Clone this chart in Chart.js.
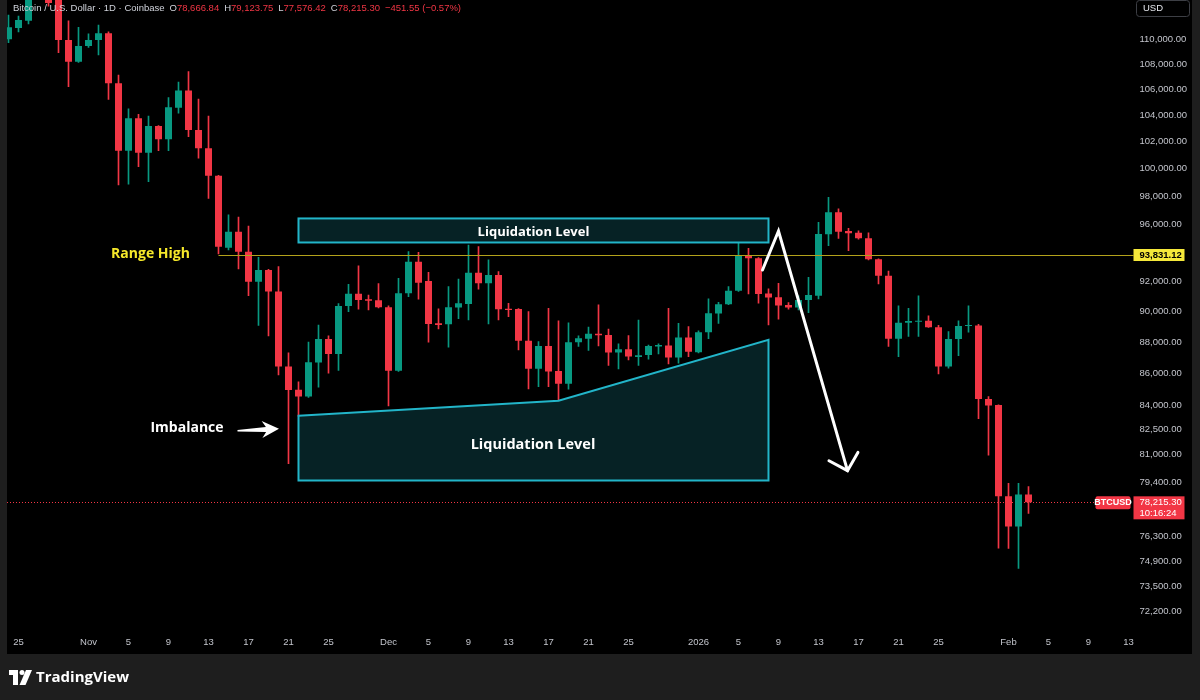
<!DOCTYPE html>
<html>
<head>
<meta charset="utf-8">
<title>BTCUSD 1D</title>
<script src="https://cdn.jsdelivr.net/npm/chart.js@4.4.1/dist/chart.umd.min.js"></script>
<style>
  html, body { margin: 0; padding: 0; background: #1e1e1e; }
  #wrap { position: relative; width: 1200px; height: 700px; }
</style>
</head>
<body>
<div id="wrap"><canvas id="btcChart" width="1200" height="700"></canvas></div>
<script>
// Daily candles, Coinbase BTC/USD
const dates = [
  'Oct 24','Oct 25','Oct 26','Oct 27','Oct 28','Oct 29','Oct 30','Oct 31',
  'Nov 1','Nov 2','Nov 3','Nov 4','Nov 5','Nov 6','Nov 7','Nov 8','Nov 9','Nov 10',
  'Nov 11','Nov 12','Nov 13','Nov 14','Nov 15','Nov 16','Nov 17','Nov 18','Nov 19','Nov 20',
  'Nov 21','Nov 22','Nov 23','Nov 24','Nov 25','Nov 26','Nov 27','Nov 28','Nov 29','Nov 30',
  'Dec 1','Dec 2','Dec 3','Dec 4','Dec 5','Dec 6','Dec 7','Dec 8','Dec 9','Dec 10',
  'Dec 11','Dec 12','Dec 13','Dec 14','Dec 15','Dec 16','Dec 17','Dec 18','Dec 19','Dec 20',
  'Dec 21','Dec 22','Dec 23','Dec 24','Dec 25','Dec 26','Dec 27','Dec 28','Dec 29','Dec 30','Dec 31',
  'Jan 1','Jan 2','Jan 3','Jan 4','Jan 5','Jan 6','Jan 7','Jan 8','Jan 9','Jan 10',
  'Jan 11','Jan 12','Jan 13','Jan 14','Jan 15','Jan 16','Jan 17','Jan 18','Jan 19','Jan 20',
  'Jan 21','Jan 22','Jan 23','Jan 24','Jan 25','Jan 26','Jan 27','Jan 28','Jan 29','Jan 30','Jan 31',
  'Feb 1','Feb 2','Feb 3','Feb 4','Feb 5','Feb 6','Feb 7','Feb 8','Feb 9','Feb 10',
  'Feb 11','Feb 12','Feb 13'
];

const open = [
  109980,110890,111490,114500,114100,113250,109920,108170,
  109430,109920,110460,106470,101320,103770,101170,103180,102170,104580,105900,102880,
  101500,99470,94340,95450,94060,92000,92800,91340,86440,84970,84550,86690,88200,87230,
  90380,91200,90820,90760,
  90290,86170,91230,93370,92050,89230,89170,90270,90510,92610,91900,92460,90200,90180,
  88090,86290,87760,86150,85350,88000,88230,88540,88470,87330,87550,87050,87170,87720,
  87780,87010,88300,
  87350,88650,89870,90490,91400,93770,93610,91210,90960,90440,90270,90780,91060,95270,
  96830,95500,95380,94990,93540,92410,88220,89270,89340,89400,88980,86440,88200,89060,
  89080,84390,84030,
  78570,76830,78666.84
];
const high = [
  111960,111880,115200,116100,116000,113700,111490,110950,
  110410,111140,110590,107120,104480,104070,103940,103200,105350,106570,107390,105250,
  103940,99500,96640,96480,95850,93670,92850,93030,87310,85470,88000,89110,88410,90530,
  91830,93080,91110,91870,
  90380,92230,94060,94020,92640,90180,91670,92190,94520,94410,93490,92690,90560,90200,
  90000,88040,90220,89390,89270,88410,88980,90450,88860,87890,88430,89450,87820,87890,
  90220,89230,89010,
  88740,90850,90620,91670,94680,94300,93650,91520,91890,90600,91050,92300,96120,97900,
  97070,95690,95520,95380,93560,92730,90380,90220,91050,89730,89090,88690,89390,90380,
  89170,84550,84040,
  79310,79310,79123.75
];
const low = [
  109700,110570,111220,113700,112700,108890,106200,108120,
  109330,108710,105220,98800,98850,100130,99040,101320,101320,104150,102370,100760,
  97830,93900,94180,92870,91070,89100,88410,85910,80470,83320,84500,85140,86020,86190,
  90000,90160,90110,90250,
  83970,86130,91000,90830,88000,88870,87680,89540,89450,91500,89190,89450,89670,87500,
  85030,85170,85170,84350,85010,87720,87460,87760,86500,86290,86860,86500,86900,87240,
  86610,86650,87070,
  87300,88220,89230,90460,91350,91180,90560,89120,89500,90160,90110,89930,90850,94470,
  94990,94130,94930,93500,91850,87720,87070,88370,88370,88960,85960,86340,87130,88650,
  83180,80970,75620,
  75600,74500,77576.42
];
const close = [
  110950,111550,114500,114100,112950,109920,108170,109430,
  109920,110460,106470,101320,103770,101170,103180,102170,104610,105900,102880,101500,
  99470,94410,95450,94060,92000,92800,91340,86440,84950,84550,86710,88200,87230,90380,
  91200,90780,90730,90290,
  86170,91230,93370,91940,89190,89120,90290,90560,92610,91900,92460,90160,90110,88090,
  86290,87760,86120,85350,88000,88260,88540,88450,87330,87550,87070,87150,87760,87820,
  87010,88300,87390,
  88650,89890,90490,91400,93790,93610,91180,90950,90410,90270,90780,91110,95290,96830,
  95450,95340,94990,93540,92410,88220,89270,89380,89400,88980,86440,88200,89060,89120,
  84390,83990,78570,
  76830,78666.85,78215.30
];

// axis labels as TradingView shows them
const timeTicks = {
  'Oct 25':'25','Nov 1':'Nov','Nov 5':'5','Nov 9':'9','Nov 13':'13','Nov 17':'17','Nov 21':'21','Nov 25':'25',
  'Dec 1':'Dec','Dec 5':'5','Dec 9':'9','Dec 13':'13','Dec 17':'17','Dec 21':'21','Dec 25':'25',
  'Jan 1':'2026','Jan 5':'5','Jan 9':'9','Jan 13':'13','Jan 17':'17','Jan 21':'21','Jan 25':'25',
  'Feb 1':'Feb','Feb 5':'5','Feb 9':'9','Feb 13':'13'
};
const priceTicks = [110000,108000,106000,104000,102000,100000,98000,96000,92000,90000,
  88000,86000,84000,82500,81000,79400,76300,74900,73500,72200];
const priceMin = 71200, priceMax = 113203;

// drawings on the chart (date label, shift in bars, price)
const rangeHigh = 93831.12;
const rangeFrom = 'Nov 14';
const rangeText = ['Nov 7', 0.2, rangeHigh];
const upperZone = { from: 'Nov 22', to: 'Jan 8', top: 96390, bottom: 94700 };
const lowerZone = [['Nov 22', 83360], ['Dec 18', 84290], ['Jan 8', 88150], ['Jan 8', 79480], ['Nov 22', 79480]];
const lowerZoneText = ['Dec 16', -0.55, 81670];
const moveArrow = [['Jan 7', 0.4, 92800], ['Jan 9', 0, 95500], ['Jan 16', -0.1, 80060]];
const imbalanceArrow = [['Nov 16', -0.1, 82450], ['Nov 20', 0.05, 82560]];
const imbalanceText = ['Nov 11', -0.15, 82690];
const countdown = '10:16:24';

const UP = '#089981';
const DOWN = '#f23645';
const FRAME = '#1e1e1e';
const AXIS_TEXT = '#c3c5cc';
const ZONE_FILL = 'rgba(33, 200, 218, 0.17)';
const ZONE_LINE = '#22b5c9';
const RANGE_LINE = '#b3a21b';

const fmt = v => v.toLocaleString('en-US', { minimumFractionDigits: 2, maximumFractionDigits: 2 });
const candleColor = ctx => close[ctx.dataIndex] >= open[ctx.dataIndex] ? UP : DOWN;

function xAt(chart, label, shift) {
  const x = chart.scales.x;
  const i = dates.indexOf(label);
  return x.getPixelForValue(i) + (shift || 0) * (x.getPixelForValue(i + 1) - x.getPixelForValue(i));
}
const yAt = (chart, p) => chart.scales.y.getPixelForValue(p);

function roundRect(c, x, y, w, h, r) {
  c.beginPath();
  c.moveTo(x + r, y);
  c.arcTo(x + w, y, x + w, y + h, r);
  c.arcTo(x + w, y + h, x, y + h, r);
  c.arcTo(x, y + h, x, y, r);
  c.arcTo(x, y, x + w, y, r);
  c.closePath();
}

const tvOverlay = {
  id: 'tvOverlay',
  beforeDraw(chart) {
    const c = chart.ctx;
    c.save();
    c.fillStyle = FRAME;
    c.fillRect(0, 0, chart.width, chart.height);
    c.fillStyle = '#000000';
    c.fillRect(7, 0, 1185, 654);
    c.restore();
  },
  beforeDatasetsDraw(chart) {
    // dotted last price line
    const c = chart.ctx;
    const n = close.length - 1;
    const y = Math.round(yAt(chart, close[n])) + 0.5;
    c.save();
    c.strokeStyle = close[n] >= open[n] ? UP : DOWN;
    c.lineWidth = 1;
    c.setLineDash([1, 2]);
    c.beginPath();
    c.moveTo(7, y);
    c.lineTo(chart.chartArea.right - 38, y);
    c.stroke();
    c.restore();
  },
  afterDatasetsDraw(chart) {
    const c = chart.ctx;
    const area = chart.chartArea;
    c.save();

    // range high line
    const yr = Math.round(yAt(chart, rangeHigh)) + 0.5;
    c.strokeStyle = RANGE_LINE;
    c.lineWidth = 1.2;
    c.beginPath();
    c.moveTo(xAt(chart, rangeFrom), yr);
    c.lineTo(area.right, yr);
    c.stroke();

    // upper liquidation box
    const bx0 = xAt(chart, upperZone.from), bx1 = xAt(chart, upperZone.to);
    const by0 = yAt(chart, upperZone.top), by1 = yAt(chart, upperZone.bottom);
    c.fillStyle = ZONE_FILL;
    c.strokeStyle = ZONE_LINE;
    c.lineWidth = 2;
    c.fillRect(bx0, by0, bx1 - bx0, by1 - by0);
    c.strokeRect(bx0, by0, bx1 - bx0, by1 - by0);

    // lower liquidation zone
    c.beginPath();
    lowerZone.forEach(([d, p], i) => {
      const px = xAt(chart, d), py = yAt(chart, p);
      if (i === 0) c.moveTo(px, py); else c.lineTo(px, py);
    });
    c.closePath();
    c.fill();
    c.stroke();

    // texts (Open Sans sits a bit high on 'middle', nudge down)
    const nudge = 1.5;
    c.textAlign = 'center';
    c.textBaseline = 'middle';
    c.fillStyle = '#ffffff';
    c.font = 'bold 13px "Open Sans"';
    c.fillText('Liquidation Level', (bx0 + bx1) / 2, (by0 + by1) / 2 + nudge);
    c.font = 'bold 14.5px "Open Sans"';
    c.fillText('Liquidation Level', xAt(chart, lowerZoneText[0], lowerZoneText[1]), yAt(chart, lowerZoneText[2]) + nudge);
    c.font = 'bold 14px "Open Sans"';
    c.fillText('Imbalance', xAt(chart, imbalanceText[0], imbalanceText[1]), yAt(chart, imbalanceText[2]) + nudge);
    c.fillStyle = '#f5e82a';
    c.fillText('Range High', xAt(chart, rangeText[0], rangeText[1]), yAt(chart, rangeText[2]) - 2.5 + nudge);

    // zig-zag move arrow
    const pts = moveArrow.map(([d, s, p]) => [xAt(chart, d, s), yAt(chart, p)]);
    c.strokeStyle = '#ffffff';
    c.lineWidth = 3;
    c.lineJoin = 'miter';
    c.lineCap = 'round';
    c.beginPath();
    pts.forEach(([px, py], i) => { if (i === 0) c.moveTo(px, py); else c.lineTo(px, py); });
    c.stroke();
    const [ex, ey] = pts[pts.length - 1];
    const [sx, sy] = pts[pts.length - 2];
    const back = Math.atan2(sy - ey, sx - ex);
    c.beginPath();
    c.moveTo(ex + 21 * Math.cos(back - 0.8), ey + 21 * Math.sin(back - 0.8));
    c.lineTo(ex, ey);
    c.lineTo(ex + 21 * Math.cos(back + 0.8), ey + 21 * Math.sin(back + 0.8));
    c.stroke();

    // imbalance arrow (tapered)
    const tx = xAt(chart, imbalanceArrow[0][0], imbalanceArrow[0][1]), ty = yAt(chart, imbalanceArrow[0][2]);
    const hx = xAt(chart, imbalanceArrow[1][0], imbalanceArrow[1][1]), hy = yAt(chart, imbalanceArrow[1][2]);
    const len = Math.hypot(hx - tx, hy - ty);
    c.translate(hx, hy);
    c.rotate(Math.atan2(hy - ty, hx - tx));
    c.fillStyle = '#ffffff';
    c.beginPath();
    c.moveTo(0, 0);
    c.lineTo(-17, -8.5);
    c.lineTo(-13, -2.5);
    c.lineTo(-len, -0.7);
    c.lineTo(-len, 0.7);
    c.lineTo(-13, 2.5);
    c.lineTo(-17, 8.5);
    c.closePath();
    c.fill();
    c.restore();
  },
  afterDraw(chart) {
    const c = chart.ctx;
    const area = chart.chartArea;
    const n = close.length - 1;
    c.save();

    // left border of the pane
    c.fillStyle = FRAME;
    c.fillRect(0, 0, 7, 654);

    // symbol legend
    c.font = '9.5px "Liberation Sans"';
    c.textBaseline = 'middle';
    c.textAlign = 'left';
    const chg = close[n] - close[n - 1];
    const pct = chg / close[n - 1] * 100;
    const valColor = close[n] >= open[n] ? UP : DOWN;
    const minus = v => (v < 0 ? '\u2212' : '+') + fmt(Math.abs(v));
    const parts = [
      ['Bitcoin / U.S. Dollar \u00b7 1D \u00b7 Coinbase', '#d1d4dc', 5],
      ['O', '#d1d4dc', 0], [fmt(open[n]), valColor, 5],
      ['H', '#d1d4dc', 0], [fmt(high[n]), valColor, 5],
      ['L', '#d1d4dc', 0], [fmt(low[n]), valColor, 5],
      ['C', '#d1d4dc', 0], [fmt(close[n]), valColor, 5],
      [minus(chg) + ' (' + (pct < 0 ? '\u2212' : '+') + Math.abs(pct).toFixed(2) + '%)', valColor, 0]
    ];
    let hx = 13;
    parts.forEach(([t, col, gap]) => {
      c.fillStyle = col;
      c.fillText(t, hx, 8.5);
      hx += c.measureText(t).width + gap;
    });

    // USD button
    c.strokeStyle = '#3d3f45';
    c.lineWidth = 1;
    c.fillStyle = '#000000';
    roundRect(c, 1136.5, 0.5, 53, 16, 3);
    c.fill();
    c.stroke();
    c.fillStyle = '#e6e8ee';
    c.fillText('USD', 1143, 8.5);

    // range high price tag
    const yr = yAt(chart, rangeHigh);
    c.fillStyle = '#f5e83a';
    c.fillRect(area.right, yr - 6, 51, 12);
    c.fillStyle = '#000000';
    c.font = 'bold 9.5px "Liberation Sans"';
    c.fillText(fmt(rangeHigh), area.right + 6, yr + 0.5);

    // last price tag with countdown
    const yl = yAt(chart, close[n]);
    c.fillStyle = valColor;
    c.fillRect(area.right, yl - 6, 51, 23);
    roundRect(c, area.right - 38, yl - 6, 35, 13, 2);
    c.fill();
    c.fillStyle = '#ffffff';
    c.font = '9.5px "Liberation Sans"';
    c.fillText(fmt(close[n]), area.right + 6, yl + 0.5);
    c.fillText(countdown, area.right + 6, yl + 11.5);
    c.font = 'bold 9px "Liberation Sans"';
    c.textAlign = 'center';
    c.fillText('BTCUSD', area.right - 20.5, yl + 0.5);

    // TradingView mark
    c.fillStyle = '#ffffff';
    c.fillRect(9, 670, 9, 5);
    c.fillRect(13, 670, 5, 15);
    c.beginPath();
    c.arc(22, 672.5, 2.5, 0, Math.PI * 2);
    c.fill();
    c.beginPath();
    c.moveTo(26, 670);
    c.lineTo(32, 670);
    c.lineTo(25.5, 685);
    c.lineTo(19.5, 685);
    c.closePath();
    c.fill();
    c.textAlign = 'left';
    c.font = 'bold 15px "Open Sans"';
    c.fillText('TradingView', 36, 677.5);
    c.restore();
  }
};

const bodies = dates.map((d, i) => i < open.length ? [open[i], close[i]] : null);
const wicks = dates.map((d, i) => i < open.length ? [low[i], high[i]] : null);

new Chart(document.getElementById('btcChart'), {
  type: 'bar',
  data: {
    labels: dates,
    datasets: [
      {
        label: 'body',
        data: bodies,
        backgroundColor: candleColor,
        borderWidth: 0,
        barPercentage: 0.7,
        categoryPercentage: 1,
        minBarLength: 1,
        grouped: false
      },
      {
        label: 'wick',
        data: wicks,
        backgroundColor: candleColor,
        borderWidth: 0,
        barThickness: 1,
        grouped: false
      }
    ]
  },
  options: {
    responsive: false,
    animation: false,
    events: [],
    layout: { padding: { left: 3.5, right: 8, top: 0, bottom: 46 } },
    plugins: {
      legend: { display: false },
      tooltip: { enabled: false }
    },
    scales: {
      x: {
        grid: { display: false, drawTicks: false },
        border: { display: false },
        afterFit: s => { s.height = 24; s.paddingLeft = 0; s.paddingRight = 0; },
        ticks: {
          autoSkip: false,
          maxRotation: 0,
          padding: 7,
          color: AXIS_TEXT,
          font: { family: 'Liberation Sans', size: 9.5 },
          callback: (v, i) => timeTicks[dates[i]] || ''
        }
      },
      y: {
        type: 'logarithmic',
        position: 'right',
        min: priceMin,
        max: priceMax,
        bounds: 'data',
        grid: { display: false, drawTicks: false },
        border: { display: false },
        afterBuildTicks: s => { s.ticks = priceTicks.map(v => ({ value: v })); },
        afterFit: s => { s.width = 58.5; s.paddingTop = 0; s.paddingBottom = 0; },
        ticks: {
          autoSkip: false,
          padding: 6,
          color: AXIS_TEXT,
          font: { family: 'Liberation Sans', size: 9.5 },
          callback: v => fmt(v)
        }
      }
    }
  },
  plugins: [tvOverlay]
});
</script>
</body>
</html>
